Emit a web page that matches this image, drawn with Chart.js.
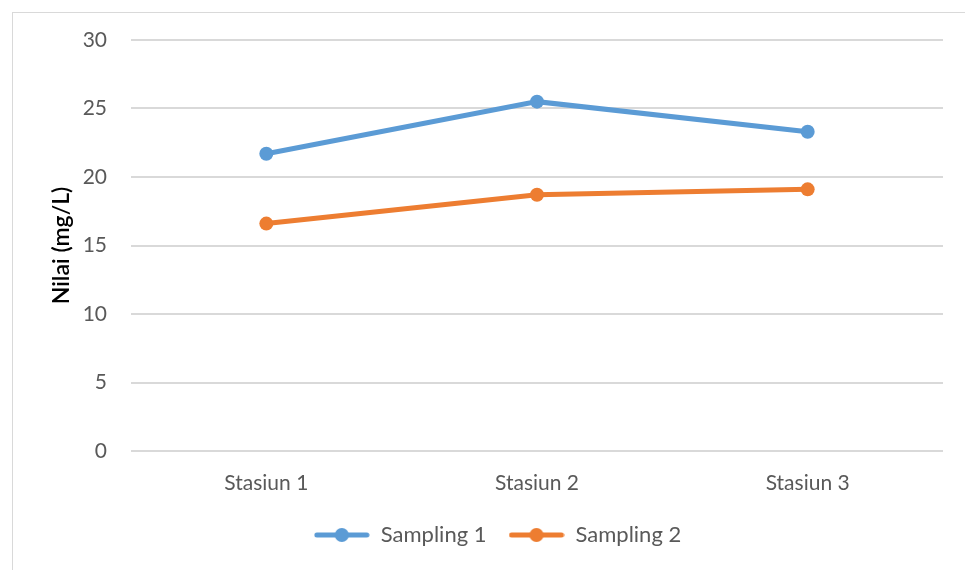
<!DOCTYPE html>
<html>
<head>
<meta charset="utf-8">
<script src="https://cdn.jsdelivr.net/npm/chart.js@4.4.0/dist/chart.umd.min.js"></script>
<style>
  html, body { margin: 0; padding: 0; background: #fff; }
  #wrap { position: relative; width: 965px; height: 570px; overflow: hidden; }
  #frame { position: absolute; left: 12px; top: 12px; width: 980px; height: 600px; border: 1px solid #d9d9d9; }
  canvas { position: absolute; left: 0; top: 0; }
</style>
</head>
<body>
<div id="wrap">
  <div id="frame"></div>
  <canvas id="chart" width="965" height="570"></canvas>
</div>
<script>
'use strict';

const stations = ['Stasiun 1', 'Stasiun 2', 'Stasiun 3'];
const sampling1 = [21.7, 25.5, 23.3];
const sampling2 = [16.6, 18.7, 19.1];
const seriesNames = ['Sampling 1', 'Sampling 2'];
const seriesColors = ['#5B9BD5', '#ED7D31'];

const FONT = 'Lato, "Open Sans", sans-serif';
const TEXT = '#595959';

// маркер легенды: линия с кружком посередине
function legendMarker(color) {
    const c = document.createElement('canvas');
    c.width = 56;
    c.height = 16;
    const g = c.getContext('2d');
    g.strokeStyle = color;
    g.lineWidth = 5;
    g.lineCap = 'round';
    g.beginPath();
    g.moveTo(3, 8);
    g.lineTo(53, 8);
    g.stroke();
    g.fillStyle = color;
    g.beginPath();
    g.arc(28, 8, 7, 0, Math.PI * 2);
    g.fill();
    return c;
}

const markers = seriesColors.map(legendMarker);

function makeDataset(i, values) {
    return {
        label: seriesNames[i],
        data: values,
        borderColor: seriesColors[i],
        backgroundColor: seriesColors[i],
        borderWidth: 5,
        pointRadius: 7,
        pointHoverRadius: 7,
        pointBorderWidth: 0,
        tension: 0
    };
}

// сдвиг легенды вправо, как в исходном оформлении
const legendShift = {
    id: 'legendShift',
    afterLayout(chart) {
        chart.legend.left += 26;
        chart.legend.right += 26;
    }
};

new Chart(document.getElementById('chart').getContext('2d'), {
    type: 'line',
    data: {
        labels: stations,
        datasets: [makeDataset(0, sampling1), makeDataset(1, sampling2)]
    },
    options: {
        responsive: false,
        animation: false,
        layout: { padding: { left: 0, right: 22, top: 40, bottom: 14 } },
        plugins: {
            tooltip: { enabled: false },
            legend: {
                position: 'bottom',
                labels: {
                    usePointStyle: true,
                    pointStyleWidth: 56,
                    padding: 22,
                    color: TEXT,
                    font: { family: FONT, size: 22 },
                    generateLabels: (chart) => chart.data.datasets.map((ds, i) => ({
                        text: ds.label,
                        pointStyle: markers[i],
                        fillStyle: ds.borderColor,
                        strokeStyle: ds.borderColor,
                        fontColor: TEXT,
                        lineWidth: 0,
                        hidden: false,
                        datasetIndex: i
                    }))
                }
            }
        },
        scales: {
            x: {
                offset: true,
                grid: { display: false, drawTicks: false },
                border: { display: false },
                ticks: { color: TEXT, font: { family: FONT, size: 21 }, padding: 20 },
                afterFit: (scale) => { scale.height = 51; }
            },
            y: {
                min: 0,
                max: 30,
                ticks: { stepSize: 5, color: TEXT, font: { family: FONT, size: 21 }, padding: 24 },
                grid: { color: '#d9d9d9', lineWidth: 2, drawTicks: false },
                border: { display: false },
                title: {
                    display: true,
                    text: 'Nilai (mg/L)',
                    color: '#000',
                    font: { family: FONT, size: 23, weight: '600' },
                    padding: { top: 48, bottom: 0 }
                },
                afterFit: (scale) => { scale.width = 131; }
            }
        }
    },
    plugins: [legendShift]
});
</script>
</body>
</html>
